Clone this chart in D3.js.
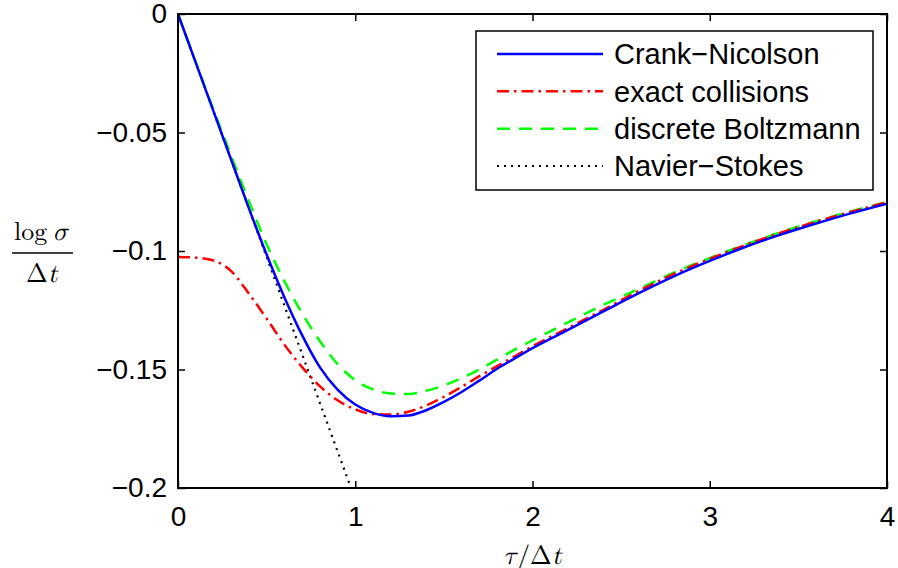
<!DOCTYPE html>
<html>
<head>
<meta charset="utf-8">
<script src="https://cdn.jsdelivr.net/npm/d3@7"></script>
<style>
  html, body { margin: 0; padding: 0; background: #fff; }
  svg { display: block; }
  text { font-family: "Liberation Sans", Arial, Helvetica, sans-serif; }
</style>
</head>
<body>
<svg id="chart" width="898" height="568"></svg>
<script>
// ---- data ----
const xTicks = [0, 1, 2, 3, 4];
const xTickLabels = ["0", "1", "2", "3", "4"];
const yTicks = [0, -0.05, -0.1, -0.15, -0.2];
const yTickLabels = ["0", "\u22120.05", "\u22120.1", "\u22120.15", "\u22120.2"];

const seriesNames = ["Crank\u2212Nicolson", "exact collisions", "discrete Boltzmann", "Navier\u2212Stokes"];

const crankNicolson = [
  [0, 0], [0.1, -0.0205], [0.2, -0.041], [0.3, -0.0615], [0.4, -0.082], [0.5, -0.1015],
  [0.6, -0.1195], [0.7, -0.1355], [0.8, -0.1490], [0.9, -0.1585], [1.0, -0.1648],
  [1.1, -0.1683], [1.2, -0.1697], [1.3, -0.1694], [1.4, -0.1672], [1.5, -0.1637],
  [1.6, -0.1595], [1.7, -0.1547], [1.8, -0.1497], [1.9, -0.1453], [2.0, -0.1410],
  [2.2, -0.1333], [2.4, -0.1255], [2.6, -0.1178], [2.8, -0.1106], [3.0, -0.1042],
  [3.2, -0.0983], [3.4, -0.0931], [3.6, -0.0884], [3.8, -0.0840], [4.0, -0.0800]
];
const exactCollisions = [
  [0, -0.1025], [0.1, -0.1028], [0.2, -0.1040], [0.3, -0.1085], [0.4, -0.1180],
  [0.5, -0.1285], [0.6, -0.1395], [0.7, -0.1490], [0.8, -0.1570], [0.9, -0.1630],
  [1.0, -0.1668], [1.1, -0.1688], [1.2, -0.1690], [1.3, -0.1678], [1.4, -0.1652],
  [1.5, -0.1615], [1.6, -0.1573], [1.7, -0.1528], [1.8, -0.1486], [1.9, -0.1444],
  [2.0, -0.1402], [2.2, -0.1325], [2.4, -0.1248], [2.6, -0.1168], [2.8, -0.1096],
  [3.0, -0.1033], [3.2, -0.0975], [3.4, -0.0923], [3.6, -0.0876], [3.8, -0.0834], [4.0, -0.0795]
];
const discreteBoltzmann = [
  [0, 0], [0.1, -0.0203], [0.2, -0.0403], [0.3, -0.0598], [0.4, -0.0790], [0.5, -0.0972],
  [0.6, -0.1127], [0.7, -0.1263], [0.8, -0.1380], [0.9, -0.1477], [1.0, -0.1545],
  [1.1, -0.1584], [1.2, -0.1601], [1.3, -0.1603], [1.4, -0.1590], [1.5, -0.1567],
  [1.6, -0.1536], [1.7, -0.1500], [1.8, -0.1458], [1.9, -0.1416], [2.0, -0.1377],
  [2.2, -0.1301], [2.4, -0.1227], [2.6, -0.1160], [2.8, -0.1090], [3.0, -0.1030],
  [3.2, -0.0973], [3.4, -0.0921], [3.6, -0.0874], [3.8, -0.0832], [4.0, -0.0793]
];
const navierStokes = [
  [0, 0], [0.2, -0.041], [0.4, -0.082], [0.6, -0.123], [0.8, -0.164], [0.976, -0.2]
];

// ---- layout ----
const svg = d3.select("#chart");
const L = 178, R = 887, T = 14, B = 488;
const x = d3.scaleLinear().domain([0, 4]).range([L, R]);
const y = d3.scaleLinear().domain([-0.2, 0]).range([B, T]);

const tickFont = "28px";

// axes (ticks inward on all four sides)
const gB = svg.append("g").attr("transform", `translate(0,${B})`)
  .call(d3.axisBottom(x).tickValues(xTicks).tickFormat((d, i) => xTickLabels[i]).tickSize(-7).tickPadding(18));
const gT = svg.append("g").attr("transform", `translate(0,${T})`)
  .call(d3.axisTop(x).tickValues(xTicks).tickFormat("").tickSize(-7));
const gL = svg.append("g").attr("transform", `translate(${L},0)`)
  .call(d3.axisLeft(y).tickValues(yTicks).tickFormat((d, i) => yTickLabels[i]).tickSize(-7).tickPadding(11));
const gR = svg.append("g").attr("transform", `translate(${R},0)`)
  .call(d3.axisRight(y).tickValues(yTicks).tickFormat("").tickSize(-7));

[gB, gT, gL, gR].forEach(g => {
  g.select(".domain").remove();
  g.selectAll(".tick line").attr("stroke", "#000").attr("stroke-width", 1.5);
  g.selectAll(".tick text").attr("fill", "#000").style("font-size", tickFont)
    .style("font-family", "'Liberation Sans', Arial, sans-serif");
});

// clip
svg.append("clipPath").attr("id", "clip")
  .append("rect").attr("x", L).attr("y", T).attr("width", R - L).attr("height", B - T);

const line = d3.line().x(d => x(d[0])).y(d => y(d[1])).curve(d3.curveMonotoneX);

const styles = [
  { data: crankNicolson, color: "#0000ff", dash: null, width: 2.5 },
  { data: exactCollisions, color: "#ff0000", dash: "12,5,2.5,5", width: 2.5 },
  { data: discreteBoltzmann, color: "#00ff00", dash: "13,9", width: 2.5 },
  { data: navierStokes, color: "#000000", dash: "2,5", width: 2.2 }
];

const plot = svg.append("g").attr("clip-path", "url(#clip)");
[3, 2, 1, 0].forEach(i => {
  const s = styles[i];
  plot.append("path").datum(s.data)
    .attr("d", line)
    .attr("fill", "none")
    .attr("stroke", s.color)
    .attr("stroke-width", s.width)
    .attr("stroke-dasharray", s.dash)
    .attr("stroke-linejoin", "round");
});

// box
svg.append("rect").attr("x", L).attr("y", T).attr("width", R - L).attr("height", B - T)
  .attr("fill", "none").attr("stroke", "#000").attr("stroke-width", 2);

// legend
const lg = svg.append("g");
lg.append("rect").attr("x", 476).attr("y", 31).attr("width", 397).attr("height", 159)
  .attr("fill", "#fff").attr("stroke", "#000").attr("stroke-width", 1.5);
const legY = d3.scalePoint().domain(d3.range(seriesNames.length)).range([54, 166]);
seriesNames.forEach((name, i) => {
  const s = styles[i];
  const yy = legY(i);
  lg.append("line").attr("x1", 497).attr("x2", 603).attr("y1", yy).attr("y2", yy)
    .attr("stroke", s.color).attr("stroke-width", s.width)
    .attr("stroke-dasharray", s.dash);
  lg.append("text").attr("x", 614).attr("y", yy).attr("dy", "0.36em")
    .style("font-size", "29px").attr("fill", "#000").text(name);
});

// x label: τ/Δt
const serif = "'Latin Modern Math', 'DejaVu Serif', 'Liberation Serif', serif";
const xl = svg.append("text").attr("x", (L + R) / 2).attr("y", 564).attr("text-anchor", "middle")
  .style("font-family", serif).style("font-size", "26px").attr("fill", "#000");
xl.append("tspan").style("font-style", "italic").text("\u03c4");
xl.append("tspan").text("/\u0394");
xl.append("tspan").style("font-style", "italic").text("t");

// y label: log σ / Δt
const yl = svg.append("g");
const num = yl.append("text").attr("x", 41).attr("y", 240).attr("text-anchor", "middle")
  .style("font-family", serif).style("font-size", "26px").attr("fill", "#000");
num.append("tspan").text("log\u2009");
num.append("tspan").style("font-style", "italic").text("\u03c3");
yl.append("line").attr("x1", 12).attr("x2", 73).attr("y1", 253).attr("y2", 253)
  .attr("stroke", "#000").attr("stroke-width", 1.5);
const den = yl.append("text").attr("x", 42).attr("y", 282).attr("text-anchor", "middle")
  .style("font-family", serif).style("font-size", "26px").attr("fill", "#000");
den.append("tspan").text("\u0394");
den.append("tspan").style("font-style", "italic").text("t");
</script>
</body>
</html>
